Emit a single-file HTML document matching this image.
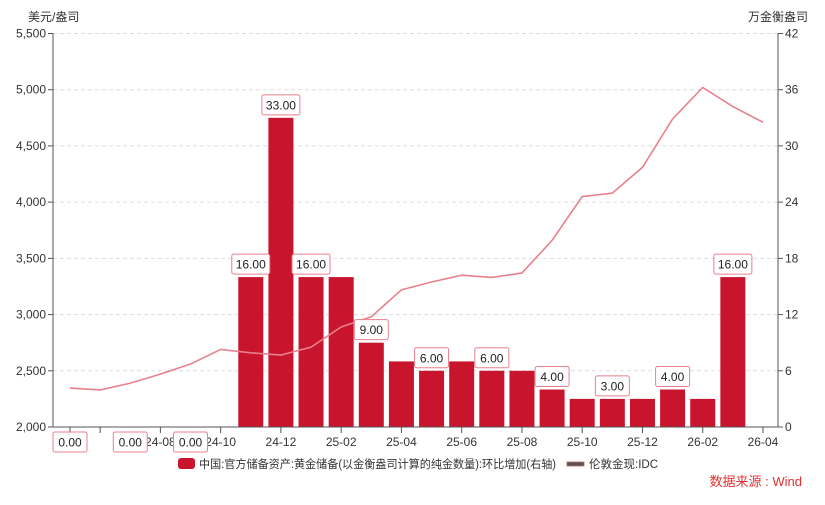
<!DOCTYPE html>
<html><head><meta charset="utf-8"><style>
body{margin:0;background:#fff;}
svg text{font-family:"Liberation Sans","Noto Sans CJK SC",sans-serif;}
</style></head><body>
<svg id="c" width="825" height="500"></svg>
<script>
const months=["24-05","24-06","24-07","24-08","24-09","24-10","24-11","24-12","25-01","25-02","25-03","25-04","25-05","25-06","25-07","25-08","25-09","25-10","25-11","25-12","26-01","26-02","26-03","26-04"];
const reserveAdd=[0,0,0,0,0,0,16,33,16,16,9,7,6,7,6,6,4,3,3,3,4,3,16,null];
const showLabel=[1,0,1,0,1,0,1,1,1,0,1,0,1,0,1,0,1,0,1,0,1,0,1,0];
const goldPrice=[2346,2330,2390,2470,2560,2690,2660,2640,2710,2890,2980,3220,3290,3350,3330,3370,3660,4050,4080,4310,4740,5020,4850,4710];
const leftTicks=[2000,2500,3000,3500,4000,4500,5000,5500];
const rightTicks=[0,6,12,18,24,30,36,42];
const xTickLabels=["","","","24-08","","24-10","","24-12","","25-02","","25-04","","25-06","","25-08","","25-10","","25-12","","26-02","","26-04"];
const X0=53,X1=778,Y0=427,Y1=33.5;
const xs=i=>70+i*30.13;
const yl=v=>Y0-(v-2000)/3500*(Y0-Y1);
const yr=v=>Y0-v/42*(Y0-Y1);
const svg=document.getElementById('c');const NS="http://www.w3.org/2000/svg";
function mk(t,a,p){const e=document.createElementNS(NS,t);for(const k in a)e.setAttribute(k,a[k]);(p||svg).appendChild(e);return e;}
function tx(x,y,s,a){const e=mk('text',Object.assign({x:x,y:y,'font-size':12,fill:'#333'},a||{}));e.textContent=s;return e;}
leftTicks.forEach((v,i)=>{
 if(i>0){const g=mk('line',{x1:X0,x2:X1,y1:yl(v),y2:yl(v),stroke:'#ddd','stroke-dasharray':'4,3'});}
 mk('line',{x1:X0-5,x2:X0,y1:yl(v),y2:yl(v),stroke:'#555'});
 const t=tx(X0-7,yl(v)+4,v.toLocaleString('en-US'),{'text-anchor':'end'});
});
rightTicks.forEach(v=>{
 mk('line',{x1:X1,x2:X1+5,y1:yr(v),y2:yr(v),stroke:'#555'});
 const t=tx(X1+7,yr(v)+4,v,{});
});
let t=tx(28,21,'美元/盎司',{});
t=tx(808,21,'万金衡盎司',{'text-anchor':'end'});
reserveAdd.forEach((v,i)=>{
 if(v==null||v<=0)return;
 const b=mk('rect',{x:xs(i)-12.5,y:yr(v),width:25,height:Y0-yr(v),fill:'#c8142d'});
 
});
let d='';goldPrice.forEach((v,i)=>{d+=(i?'L':'M')+xs(i)+','+yl(v);});
const ln=mk('path',{d:d,fill:'none',stroke:'#e8808e','stroke-width':1.6});

mk('line',{x1:X0,x2:X0,y1:Y1,y2:Y0,stroke:'#555'});
mk('line',{x1:X1,x2:X1,y1:Y1,y2:Y0,stroke:'#555'});
mk('line',{x1:X0,x2:X1,y1:Y0,y2:Y0,stroke:'#555'});
months.forEach((m,i)=>{
 if(i<2||xTickLabels[i])mk('line',{x1:xs(i),x2:xs(i),y1:Y0,y2:Y0+6,stroke:'#555'});
 if(xTickLabels[i]){const l=tx(xs(i),446,xTickLabels[i],{'text-anchor':'middle'});}
});
reserveAdd.forEach((v,i)=>{
 if(v==null||!showLabel[i])return;
 const cy=v>0?yr(v)-13:442;
 const g=mk('g',{});
 const w=v>=10?38:34;
 mk('rect',{x:xs(i)-w/2,y:cy-10,width:w,height:20,rx:2,fill:'#fff',stroke:'#e8808e'},g);
 const s=mk('text',{x:xs(i),y:cy+4.5,'font-size':12,fill:'#222','text-anchor':'middle'},g);s.textContent=v.toFixed(2);
});
const lg=mk('g',{});
const l1=mk('g',{},lg);
mk('rect',{x:178,y:458,width:17,height:11,rx:3,fill:'#c8142d'},l1);
let s=mk('text',{x:199,y:468,'font-size':11.5,fill:'#333',textLength:357,lengthAdjust:'spacingAndGlyphs'},l1);s.textContent='中国:官方储备资产:黄金储备(以金衡盎司计算的纯金数量):环比增加(右轴)';
const l2=mk('g',{},lg);
mk('rect',{x:567,y:462,width:17,height:4,fill:'#555',stroke:'#b66',"stroke-width":0.8},l2);
s=mk('text',{x:589,y:468,'font-size':11.5,fill:'#333'},l2);s.textContent='伦敦金现:IDC';
t=tx(802,486,'数据来源 : Wind',{'text-anchor':'end',fill:'#e03030','font-size':13});
</script>
</body></html>
